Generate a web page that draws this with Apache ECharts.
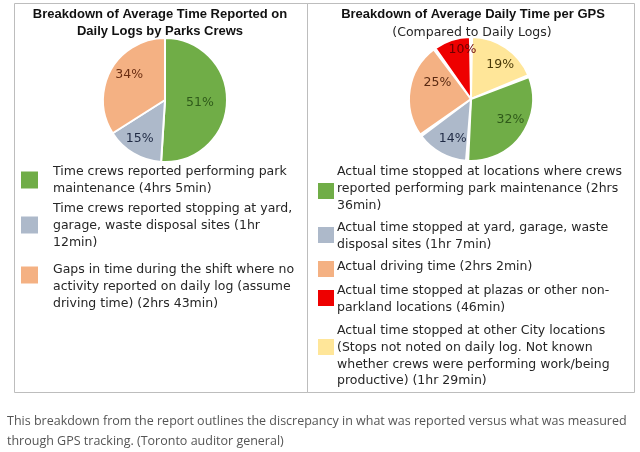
<!DOCTYPE html>
<html><head><meta charset="utf-8">
<script src="https://cdn.jsdelivr.net/npm/echarts@6/dist/echarts.min.js"></script>
<style>html,body{margin:0;padding:0;background:#fff}#c{width:640px;height:452px}</style>
</head><body><div id="c"></div>
<script>
// ---- data ----
const leftTitle = ['Breakdown of Average Time Reported on', 'Daily Logs by Parks Crews'];
const rightTitle = 'Breakdown of Average Daily Time per GPS';
const rightSubtitle = '(Compared to Daily Logs)';
const leftCategories = [
  'Time crews reported performing park\nmaintenance (4hrs 5min)',
  'Time crews reported stopping at yard,\ngarage, waste disposal sites (1hr\n12min)',
  'Gaps in time during the shift where no\nactivity reported on daily log (assume\ndriving time) (2hrs 43min)'
];
const leftValues = [51, 15, 34];
const rightCategories = [
  'Actual time stopped at other City locations\n(Stops not noted on daily log. Not known\nwhether crews were performing work/being\nproductive) (1hr 29min)',
  'Actual time stopped at locations where crews\nreported performing park maintenance (2hrs\n36min)',
  'Actual time stopped at yard, garage, waste\ndisposal sites (1hr 7min)',
  'Actual driving time (2hrs 2min)',
  'Actual time stopped at plazas or other non-\nparkland locations (46min)'
];
const rightValues = [19, 32, 14, 25, 10];
const rightLegendOrder = [1, 2, 3, 4, 0];
const caption = 'This breakdown from the report outlines the discrepancy in what was reported versus what was measured\nthrough GPS tracking. (Toronto auditor general)';

// ---- styles ----
const leftColors = ['#70ad47', '#adb9ca', '#f4b183'];
const leftLabelColors = ['#2f5a1a', '#1f2a44', '#6b2e12'];
const leftLabelOffsets = [[1, 2], [-8, 9], [-6, -9]];
const rightColors = ['#ffe699', '#70ad47', '#adb9ca', '#f4b183', '#ee0000'];
const rightLabelColors = ['#4a3a08', '#2f5a1a', '#1f2a44', '#5a2a12', '#6a0000'];
const rightLabelOffsets = [[10, -6], [12, 1], [-2, 10], [0, -11], [2, -17]];
const textFamily = '"DejaVu Sans", Verdana, sans-serif';
const legendFont = '12.5px ' + textFamily;
const titleFont = 'bold 13px "Liberation Sans", Arial, sans-serif';

// legend layout (screen positions for the legend boxes only)
const leftLegendLayout = { sqX: 21, textX: 53, lh: 17, tops: [172, 209, 270], sqY: [180, 225, 275], sq: 17 };
const rightLegendLayout = { sqX: 318, textX: 337, lh: 16.7, tops: [172, 228, 267, 291, 331], sqY: [191, 235, 269, 298, 347], sq: 16 };

const chart = echarts.init(document.getElementById('c'), null, { renderer: 'canvas' });

function pieData(values, cats, colors, labelColors, offsets) {
  return values.map((v, i) => ({
    value: v, name: cats[i],
    itemStyle: { color: colors[i] },
    label: { color: labelColors[i], offset: offsets[i] }
  }));
}

function legendGraphics(order, cats, colors, L) {
  const g = [];
  order.forEach((ci, k) => {
    g.push({ type: 'rect', shape: { x: L.sqX, y: L.sqY[k] - L.sq / 2, width: L.sq, height: L.sq }, style: { fill: colors[ci] }, silent: true });
    g.push({ type: 'text', x: L.textX, y: L.tops[k] - L.lh / 2, style: { text: cats[ci], font: legendFont, fill: '#262626', lineHeight: L.lh, verticalAlign: 'top' }, silent: true });
  });
  return g;
}

const graphics = [
  { type: 'rect', shape: { x: 14.5, y: 3.5, width: 293, height: 389 }, style: { fill: 'none', stroke: '#bdbdbd', lineWidth: 1 }, silent: true },
  { type: 'rect', shape: { x: 307.5, y: 3.5, width: 327, height: 389 }, style: { fill: 'none', stroke: '#bdbdbd', lineWidth: 1 }, silent: true },
  { type: 'text', x: 160, y: 6, style: { text: leftTitle.join('\n'), font: titleFont, fill: '#111', align: 'center', lineHeight: 17, verticalAlign: 'top' }, silent: true },
  { type: 'text', x: 473, y: 6, style: { text: rightTitle, font: titleFont, fill: '#111', align: 'center', lineHeight: 17, verticalAlign: 'top' }, silent: true },
  { type: 'text', x: 472, y: 24, style: { text: rightSubtitle, font: legendFont, fill: '#262626', align: 'center', lineHeight: 17, verticalAlign: 'top' }, silent: true },
  { type: 'text', x: 7, y: 411, style: { text: caption, font: '12.5px "Open Sans", sans-serif', fill: '#555', lineHeight: 20, verticalAlign: 'top' }, silent: true }
].concat(
  legendGraphics([0, 1, 2], leftCategories, leftColors, leftLegendLayout),
  legendGraphics(rightLegendOrder, rightCategories, rightColors, rightLegendLayout)
);

const pieBase = {
  type: 'pie', startAngle: 90, clockwise: true, avoidLabelOverlap: false,
  labelLine: { show: false }, emphasis: { disabled: true }, animation: false,
  label: { show: true, position: 'inside', formatter: '{c}%', fontSize: 12.5, fontFamily: textFamily }
};

chart.setOption({
  backgroundColor: '#fff',
  graphic: graphics,
  series: [
    Object.assign({}, pieBase, {
      center: [165, 100], radius: [0, 62],
      itemStyle: { borderColor: '#fff', borderWidth: 2 },
      data: pieData(leftValues, leftCategories, leftColors, leftLabelColors, leftLabelOffsets)
    }),
    Object.assign({}, pieBase, {
      center: [471, 99], radius: [0, 62], padAngle: 2,
      itemStyle: { borderColor: '#fff', borderWidth: 2 },
      data: pieData(rightValues, rightCategories, rightColors, rightLabelColors, rightLabelOffsets)
    })
  ]
});
</script></body></html>
